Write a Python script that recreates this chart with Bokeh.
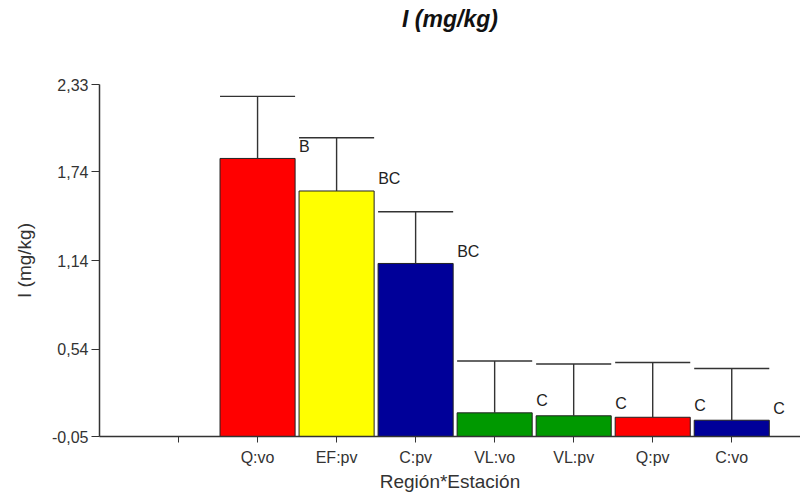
from bokeh.plotting import figure
from bokeh.models import FixedTicker, ColumnDataSource, Range1d, Title
from bokeh.core.properties import value
from bokeh.embed import file_html
from bokeh.resources import INLINE

title_text = "I (mg/kg)"
categories = ["Q:vo", "EF:pv", "C:pv", "VL:vo", "VL:pv", "Q:pv", "C:vo"]
means = [1.83, 1.61, 1.12, 0.11, 0.09, 0.08, 0.06]
upper = [2.25, 1.97, 1.47, 0.46, 0.44, 0.45, 0.41]
letters = ["B", "BC", "BC", "C", "C", "C", "C"]
colors = ["#FF0000", "#FFFF00", "#000099", "#009900", "#009900", "#FF0000", "#000099"]
y_ticks = [-0.05, 0.54, 1.14, 1.74, 2.33]
y_tick_labels = ["-0,05", "0,54", "1,14", "1,74", "2,33"]

FONT = "Liberation Sans"
y0, y1 = y_ticks[0], y_ticks[-1]
pos = [i + 2 for i in range(len(categories))]
w = 0.95
x_end = 8.87

src = ColumnDataSource(dict(
    x=pos, top=means, upper=upper, letters=letters, colors=colors,
    left=[p - w / 2 for p in pos], right=[p + w / 2 for p in pos],
    lx=[p + w / 2 for p in pos],
    bottom=[y0] * len(pos),
))

p = figure(width=800, height=494, output_backend="svg", toolbar_location=None,
           x_range=Range1d(0, x_end), y_range=Range1d(y0, y1),
           min_border_left=99, min_border_right=0, min_border_top=84, min_border_bottom=57)
p.outline_line_color = None
p.xgrid.visible = False
p.ygrid.visible = False
p.background_fill_color = "white"
p.border_fill_color = "white"

# spacer (closest to frame), then the visible title
p.add_layout(Title(text=" ", text_font_size="1px", standoff=50), "above")
p.add_layout(Title(text=title_text, align="center", vertical_align="bottom", standoff=0,
                   text_font=FONT, text_font_style="bold italic",
                   text_font_size="23px", text_color="#111111"), "above")

p.vbar(x="x", width=w, bottom="bottom", top="top", fill_color="colors",
       line_color="#222222", line_width=1, source=src)
p.segment(x0="x", y0="top", x1="x", y1="upper", line_color="#333333", line_width=1.4, source=src)
p.segment(x0="left", y0="upper", x1="right", y1="upper", line_color="#333333", line_width=1.4, source=src)
p.text(x="lx", y="top", text="letters", x_offset=4, y_offset=-12,
       text_align="left", text_baseline="middle", text_font=value(FONT),
       text_font_size="16px", text_color="#222222", source=src)

p.yaxis.ticker = FixedTicker(ticks=y_ticks)
p.yaxis.major_label_overrides = {t: l for t, l in zip(y_ticks, y_tick_labels)}
p.xaxis.ticker = FixedTicker(ticks=[1] + pos)
p.xaxis.major_label_overrides = {1: "", **{pp: c for pp, c in zip(pos, categories)}}
p.yaxis.axis_label = "I (mg/kg)"
p.xaxis.axis_label = "Región*Estación"
for ax in (p.xaxis, p.yaxis):
    ax.axis_line_color = "#333333"
    ax.axis_line_width = 1.5
    ax.major_tick_line_color = "#333333"
    ax.major_tick_in = 0
    ax.minor_tick_line_color = None
    ax.major_label_text_font = FONT
    ax.major_label_text_font_size = "16px"
    ax.major_label_text_color = "#333333"
    ax.axis_label_text_font = FONT
    ax.axis_label_text_font_size = "19px"
    ax.axis_label_text_font_style = "normal"
    ax.axis_label_text_color = "#333333"
p.xaxis.major_tick_out = 6
p.yaxis.major_tick_out = 8
p.yaxis.major_label_standoff = 3
p.yaxis.axis_label_standoff = 14
p.xaxis.axis_label_standoff = 2
p.xaxis.major_label_standoff = 6

open("out.html", "w").write(file_html(p, INLINE))
